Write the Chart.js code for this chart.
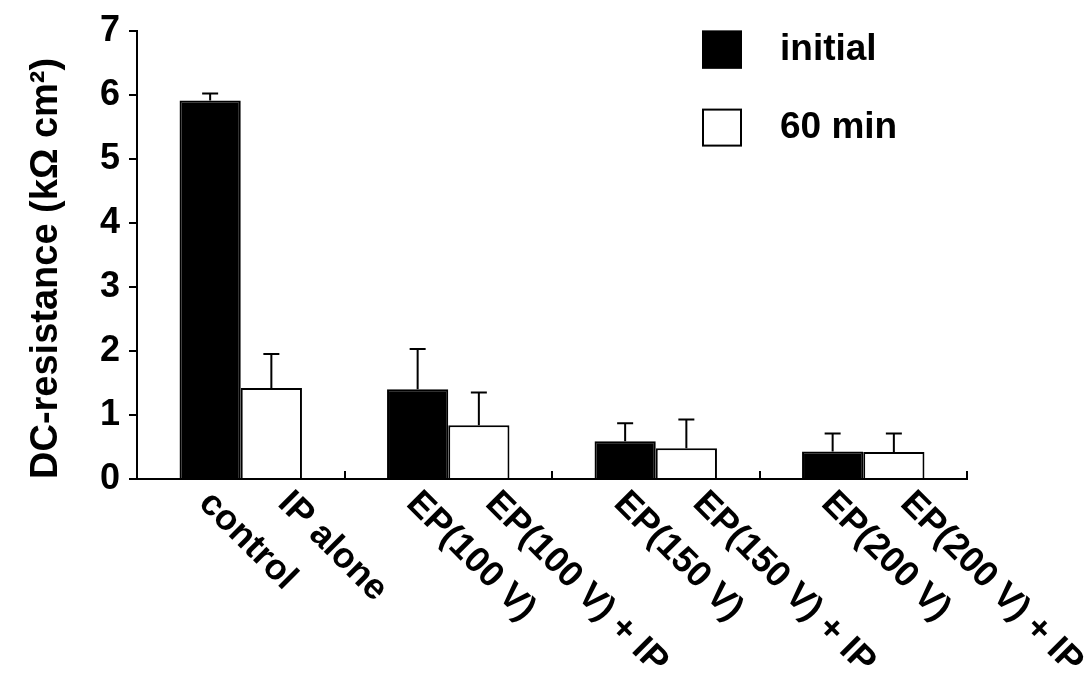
<!DOCTYPE html>
<html>
<head>
<meta charset="utf-8">
<script src="https://cdn.jsdelivr.net/npm/chart.js@4.4.0/dist/chart.umd.min.js"></script>
<style>
  html, body { margin: 0; padding: 0; background: #fff; }
</style>
</head>
<body>
<canvas id="resChart" width="1087" height="675"></canvas>
<script>
const groups = ['control', 'EP(100 V)', 'EP(150 V)', 'EP(200 V)'];
const initialLabels = ['control', 'EP(100 V)', 'EP(150 V)', 'EP(200 V)'];
const laterLabels = ['IP alone', 'EP(100 V) + IP', 'EP(150 V) + IP', 'EP(200 V) + IP'];
const seriesNames = ['initial', '60 min'];
const initialValues = [5.91, 1.40, 0.59, 0.43];
const initialErrors = [0.11, 0.63, 0.28, 0.28];
const laterValues = [1.42, 0.84, 0.48, 0.42];
const laterErrors = [0.53, 0.51, 0.45, 0.29];
const yTicks = [0, 1, 2, 3, 4, 5, 6, 7];

const FONT = '"Liberation Sans", Arial, sans-serif';
Chart.defaults.font.family = FONT;
Chart.defaults.color = '#000';

// upper error bars only
const errorBars = {
    id: 'errorBars',
    afterDatasetsDraw(chart) {
        const ctx = chart.ctx;
        const y = chart.scales.y;
        const errs = [initialErrors, laterErrors];
        ctx.save();
        ctx.strokeStyle = '#000';
        ctx.lineWidth = 2;
        chart.data.datasets.forEach((ds, i) => {
            chart.getDatasetMeta(i).data.forEach((bar, j) => {
                const top = y.getPixelForValue(ds.data[j] + errs[i][j]);
                ctx.beginPath();
                ctx.moveTo(bar.x, bar.y);
                ctx.lineTo(bar.x, top);
                ctx.moveTo(bar.x - 8, top);
                ctx.lineTo(bar.x + 8, top);
                ctx.stroke();
            });
        });
        ctx.restore();
    }
};

// slanted label under every bar
const barLabels = {
    id: 'barLabels',
    afterDraw(chart) {
        const ctx = chart.ctx;
        const area = chart.chartArea;
        const names = [initialLabels, laterLabels];
        const shift = [7, 25];
        ctx.save();
        ctx.font = 'bold 36px ' + FONT;
        ctx.fillStyle = '#000';
        ctx.textAlign = 'left';
        ctx.textBaseline = 'top';
        names.forEach((list, i) => {
            chart.getDatasetMeta(i).data.forEach((bar, j) => {
                ctx.save();
                ctx.translate(bar.x + shift[i], area.bottom + 6);
                ctx.rotate(Math.PI / 4);
                ctx.fillText(list[j], 0, 0);
                ctx.restore();
            });
        });
        ctx.restore();
    }
};

// legend stacked in the top right of the plot
const boxLegend = {
    id: 'boxLegend',
    afterDraw(chart) {
        const ctx = chart.ctx;
        const area = chart.chartArea;
        const x0 = area.right - 265;
        ctx.save();
        chart.data.datasets.forEach((ds, i) => {
            const y = area.top + i * 78;
            ctx.fillStyle = ds.backgroundColor;
            ctx.fillRect(x0, y, 40, 38);
            ctx.strokeStyle = '#000';
            ctx.lineWidth = 2;
            ctx.strokeRect(x0 + 1, y + 1, 38, 36);
            ctx.fillStyle = '#000';
            ctx.font = 'bold 37px ' + FONT;
            ctx.textAlign = 'left';
            ctx.textBaseline = 'middle';
            ctx.fillText(ds.label, x0 + 78, y + 19);
        });
        ctx.restore();
    }
};

const ctx = document.getElementById('resChart').getContext('2d');
const resChart = new Chart(ctx, {
    type: 'bar',
    data: {
        labels: groups,
        datasets: [{
            label: seriesNames[0],
            data: initialValues,
            backgroundColor: '#000',
            borderColor: '#000',
            borderWidth: 2,
            categoryPercentage: 0.59,
            barPercentage: 1.0,
        }, {
            label: seriesNames[1],
            data: laterValues,
            backgroundColor: '#fff',
            borderColor: '#000',
            borderWidth: 2,
            categoryPercentage: 0.59,
            barPercentage: 1.0,
        }],
    },
    options: {
        responsive: false,
        animation: false,
        layout: { padding: { top: 25, right: 120, left: 0, bottom: 0 } },
        plugins: {
            legend: { display: false },
            tooltip: { enabled: false },
        },
        scales: {
            x: {
                offset: true,
                ticks: { display: false },
                grid: {
                    offset: true,
                    drawOnChartArea: false,
                    drawTicks: true,
                    tickLength: -8,
                    color: '#000',
                    lineWidth: 2,
                },
                border: { color: '#000', width: 2 },
                afterFit(scale) { scale.height = 196; },
            },
            y: {
                min: 0,
                max: 7,
                afterBuildTicks(scale) { scale.ticks = yTicks.map(v => ({ value: v })); },
                ticks: {
                    font: { size: 36, weight: 'bold' },
                    padding: 9,
                },
                grid: {
                    drawOnChartArea: false,
                    drawTicks: true,
                    tickLength: 8,
                    color: '#000',
                    lineWidth: 2,
                },
                border: { color: '#000', width: 2 },
                title: {
                    display: true,
                    text: 'DC-resistance (k\u03A9 cm\u00B2)',
                    align: 'start',
                    font: { size: 38, weight: 'bold' },
                    padding: { top: 24, bottom: 0 },
                },
                afterFit(scale) { scale.width = 137; },
            },
        },
    },
    plugins: [errorBars, barLabels, boxLegend],
});
</script>
</body>
</html>
